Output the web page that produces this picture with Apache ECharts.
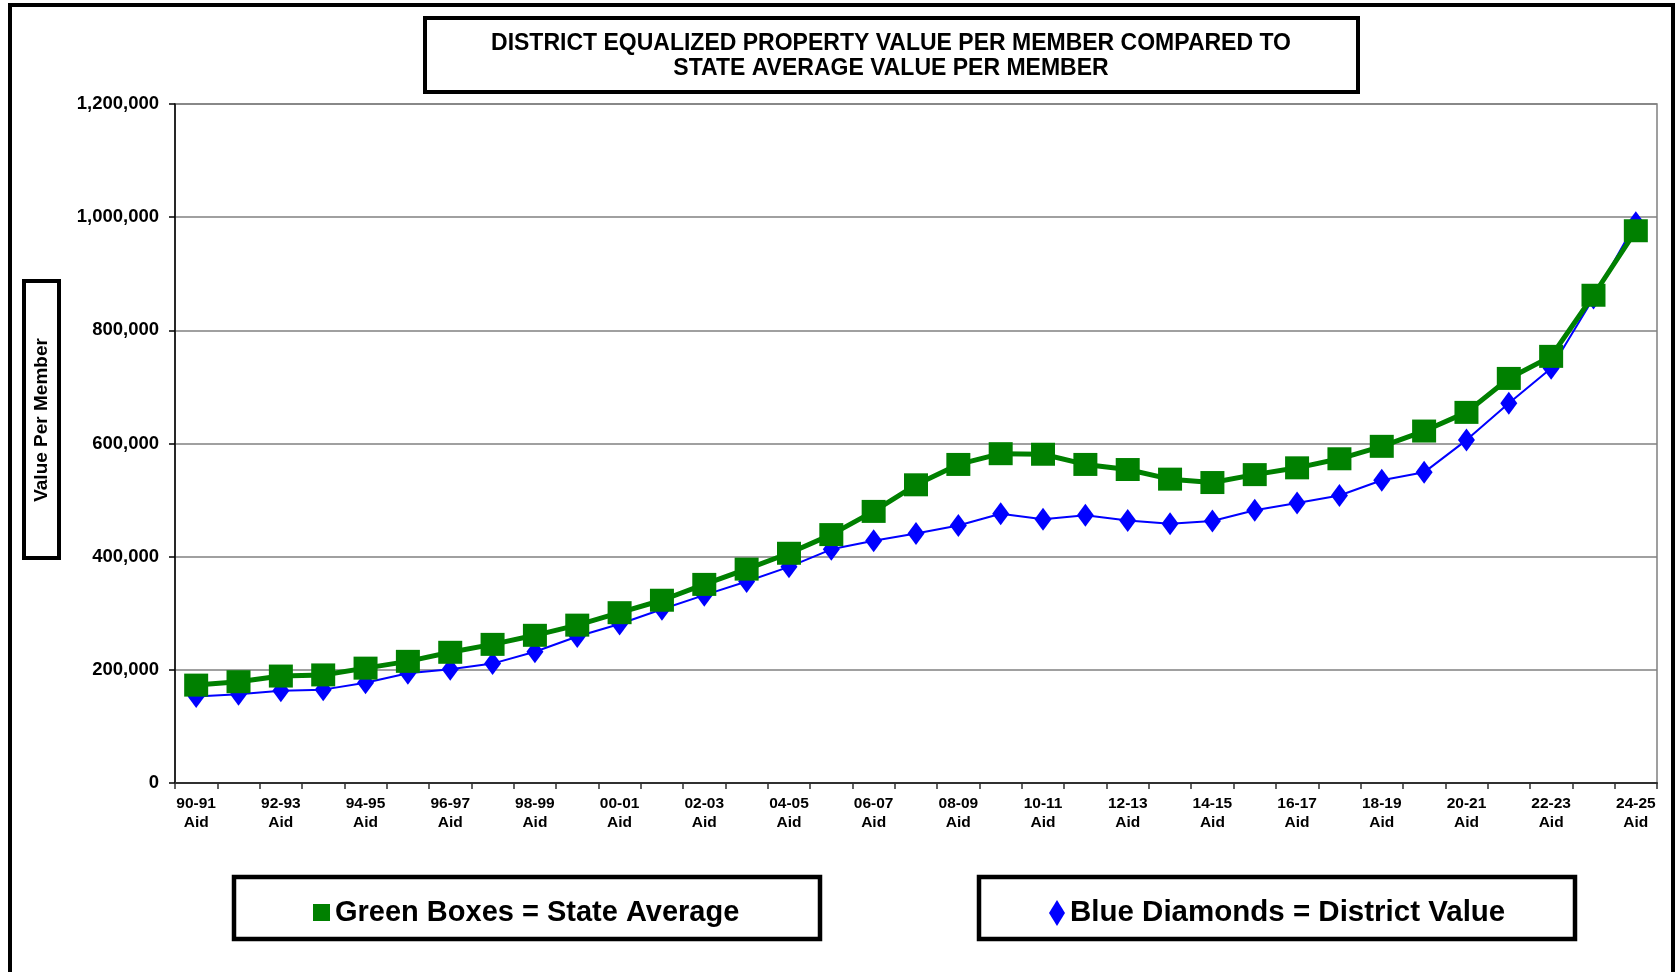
<!DOCTYPE html>
<html>
<head>
<meta charset="utf-8">
<script src="https://cdn.jsdelivr.net/npm/echarts@6/dist/echarts.min.js"></script>
<style>
html,body{margin:0;padding:0;background:#fff;}
#chart{width:1679px;height:972px;}
</style>
</head>
<body>
<div id="chart"></div>
<script>
// ---- data ----
const categories = [
  '90-91 Aid','91-92 Aid','92-93 Aid','93-94 Aid','94-95 Aid','95-96 Aid','96-97 Aid','97-98 Aid',
  '98-99 Aid','99-00 Aid','00-01 Aid','01-02 Aid','02-03 Aid','03-04 Aid','04-05 Aid','05-06 Aid',
  '06-07 Aid','07-08 Aid','08-09 Aid','09-10 Aid','10-11 Aid','11-12 Aid','12-13 Aid','13-14 Aid',
  '14-15 Aid','15-16 Aid','16-17 Aid','17-18 Aid','18-19 Aid','19-20 Aid','20-21 Aid','21-22 Aid',
  '22-23 Aid','23-24 Aid','24-25 Aid'
];
const stateAverage = [
  173000,179000,189000,191000,203000,215000,231000,245000,
  261000,279000,301000,323000,351000,378000,406000,439000,
  480000,527000,563000,582000,581000,563000,554000,537000,
  531000,545000,557000,573000,595000,622000,655000,715000,
  754000,862000,976000
];
const districtValue = [
  153000,157000,163000,165000,177000,194000,201000,211000,
  232000,259000,281000,307000,332000,356000,382000,413000,
  428000,441000,455000,476000,466000,473000,464000,458000,
  463000,482000,495000,508000,535000,549000,606000,671000,
  733000,857000,990000
];
const yTicks = { min: 0, max: 1200000, interval: 200000 };
const titleLines = ['DISTRICT EQUALIZED PROPERTY VALUE PER MEMBER COMPARED TO', 'STATE AVERAGE VALUE PER MEMBER'];
const yAxisTitle = 'Value Per Member';
const seriesNames = ['Green Boxes = State Average', 'Blue Diamonds = District Value'];

const FONT = "'Liberation Sans', Arial, sans-serif";
const chart = echarts.init(document.getElementById('chart'), null, { renderer: 'canvas' });

chart.setOption({
  backgroundColor: '#ffffff',
  animation: false,
  grid: {
    left: 175, right: 22, top: 104, bottom: 189,
    show: true, borderColor: '#808080', borderWidth: 1.5, backgroundColor: 'transparent'
  },
  xAxis: {
    type: 'category',
    data: categories,
    boundaryGap: true,
    axisLine: { show: true, lineStyle: { color: '#303030', width: 2 } },
    axisTick: { show: true, interval: 0, alignWithLabel: false, length: 6, lineStyle: { color: '#303030', width: 1.5 } },
    axisLabel: {
      interval: 1,
      margin: 11,
      color: '#000',
      fontFamily: FONT,
      fontWeight: 'bold',
      fontSize: 15.5,
      lineHeight: 19,
      formatter: v => v.replace(' ', '\n')
    },
    splitLine: { show: false }
  },
  yAxis: {
    type: 'value',
    min: yTicks.min, max: yTicks.max, interval: yTicks.interval,
    axisLine: { show: true, lineStyle: { color: '#000', width: 1.5 } },
    axisTick: { show: true, length: 6, lineStyle: { color: '#000', width: 1.5 } },
    axisLabel: {
      margin: 16,
      color: '#000',
      fontFamily: FONT,
      fontWeight: 'bold',
      fontSize: 18.5,
      formatter: v => Number(v).toLocaleString('en-US')
    },
    splitLine: { show: true, lineStyle: { color: '#808080', width: 1.5 } }
  },
  legend: [
    {
      data: [seriesNames[0]],
      left: 313, top: 898,
      padding: 0,
      icon: 'rect',
      itemWidth: 17, itemHeight: 17,
      selectedMode: false,
      textStyle: { fontFamily: FONT, fontWeight: 'bold', fontSize: 29, color: '#000' }
    },
    {
      data: [seriesNames[1]],
      left: 1049, top: 898,
      padding: 0,
      icon: 'diamond',
      itemWidth: 16, itemHeight: 26,
      selectedMode: false,
      textStyle: { fontFamily: FONT, fontWeight: 'bold', fontSize: 29.5, color: '#000' }
    }
  ],
  series: [
    {
      name: seriesNames[1],
      type: 'line',
      data: districtValue,
      symbol: 'diamond',
      symbolSize: [17, 23],
      lineStyle: { color: '#0000ff', width: 2 },
      itemStyle: { color: '#0000ff' },
      z: 2
    },
    {
      name: seriesNames[0],
      type: 'line',
      data: stateAverage,
      symbol: 'rect',
      symbolSize: [24, 23],
      lineStyle: { color: '#008000', width: 5 },
      itemStyle: { color: '#008000' },
      z: 3
    }
  ],
  graphic: [
    // outer frame
    { type: 'rect', shape: { x: 10, y: 5, width: 1663, height: 1000 }, style: { fill: 'none', stroke: '#000', lineWidth: 4 }, z: 100 },
    // title box
    { type: 'rect', shape: { x: 425, y: 18, width: 933, height: 74 }, style: { fill: '#fff', stroke: '#000', lineWidth: 4 }, z: 100 },
    { type: 'text', x: 891, y: 44, style: { text: titleLines[0], fill: '#000', font: "bold 23px " + FONT, textAlign: 'center', textVerticalAlign: 'middle' }, z: 101 },
    { type: 'text', x: 891, y: 69, style: { text: titleLines[1], fill: '#000', font: "bold 23px " + FONT, textAlign: 'center', textVerticalAlign: 'middle' }, z: 101 },
    // y axis title box
    { type: 'rect', shape: { x: 24, y: 281, width: 35, height: 277 }, style: { fill: '#fff', stroke: '#000', lineWidth: 4 }, z: 100 },
    { type: 'text', x: 42, y: 420, rotation: Math.PI / 2, style: { text: yAxisTitle, fill: '#000', font: "bold 19px " + FONT, textAlign: 'center', textVerticalAlign: 'middle' }, z: 101 },
    // legend boxes
    { type: 'rect', shape: { x: 234, y: 877, width: 586, height: 62 }, style: { fill: 'none', stroke: '#000', lineWidth: 4.5 }, z: 100 },
    { type: 'rect', shape: { x: 979, y: 877, width: 596, height: 62 }, style: { fill: 'none', stroke: '#000', lineWidth: 4.5 }, z: 100 }
  ]
});
</script>
</body>
</html>
